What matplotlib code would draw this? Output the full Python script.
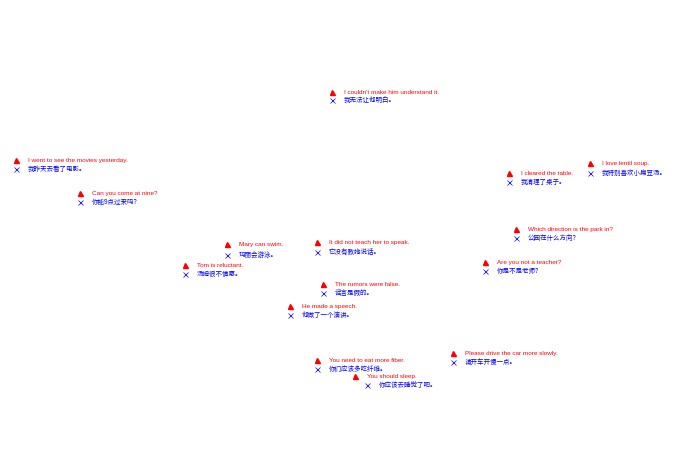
import matplotlib
matplotlib.use("Agg")
import matplotlib.pyplot as plt

plt.rcParams['font.family'] = ['Liberation Sans', 'Noto Sans CJK SC', 'DejaVu Sans']

en_labels = [
    "I went to see the movies yesterday.",
    "Can you come at nine?",
    "I couldn't make him understand it.",
    "I cleared the table.",
    "I love lentil soup.",
    "Mary can swim.",
    "It did not teach her to speak.",
    "Tom is reluctant.",
    "The rumors were false.",
    "He made a speech.",
    "Which direction is the park in?",
    "Are you not a teacher?",
    "You need to eat more fiber.",
    "You should sleep.",
    "Please drive the car more slowly.",
]
zh_labels = [
    "我昨天去看了电影。",
    "你能9点过来吗？",
    "我无法让他明白。",
    "我清理了桌子。",
    "我特别喜欢小扁豆汤。",
    "玛丽会游泳。",
    "它没有教她说话。",
    "汤姆很不情愿。",
    "谣言是假的。",
    "他做了一个演讲。",
    "公园在什么方向？",
    "你是不是老师？",
    "你们应该多吃纤维。",
    "你应该去睡觉了吧。",
    "请开车开慢一点。",
]
en_x = [16, 80, 332, 509, 590, 227, 317, 185, 323, 290, 516, 485, 317, 355, 453]
en_y = [161, 194, 93, 174, 164, 245, 243, 266, 285, 307, 230, 263, 361, 377, 354]
zh_x = [16, 80, 332, 509, 590, 227, 317, 185, 323, 290, 516, 485, 317, 367, 453]
zh_y = [170, 203, 101, 183, 174, 256, 253, 275, 294, 316, 239, 272, 370, 386, 363]

fig = plt.figure(figsize=(6.75, 4.77), dpi=100)
ax = fig.add_axes([0, 0, 1, 1])
ax.set_xlim(0, 675)
ax.set_ylim(477, 0)
ax.axis('off')

ax.plot(en_x, en_y, linestyle='none', marker='^', color='red', markersize=3.6)
ax.plot(zh_x, zh_y, linestyle='none', marker='x', color='blue', markersize=3.6, markeredgewidth=0.5)

for x, y, t in zip(en_x, en_y, en_labels):
    ax.annotate(t, (x, y), xytext=(8.5, 0.5), textcoords='offset points',
                color='red', fontsize=4.6, va='center', ha='left')
for x, y, t in zip(zh_x, zh_y, zh_labels):
    ax.annotate(t, (x, y), xytext=(8.5, 0.5), textcoords='offset points',
                color='blue', fontsize=4.7, va='center', ha='left')

fig.savefig("out.png", dpi=100)
